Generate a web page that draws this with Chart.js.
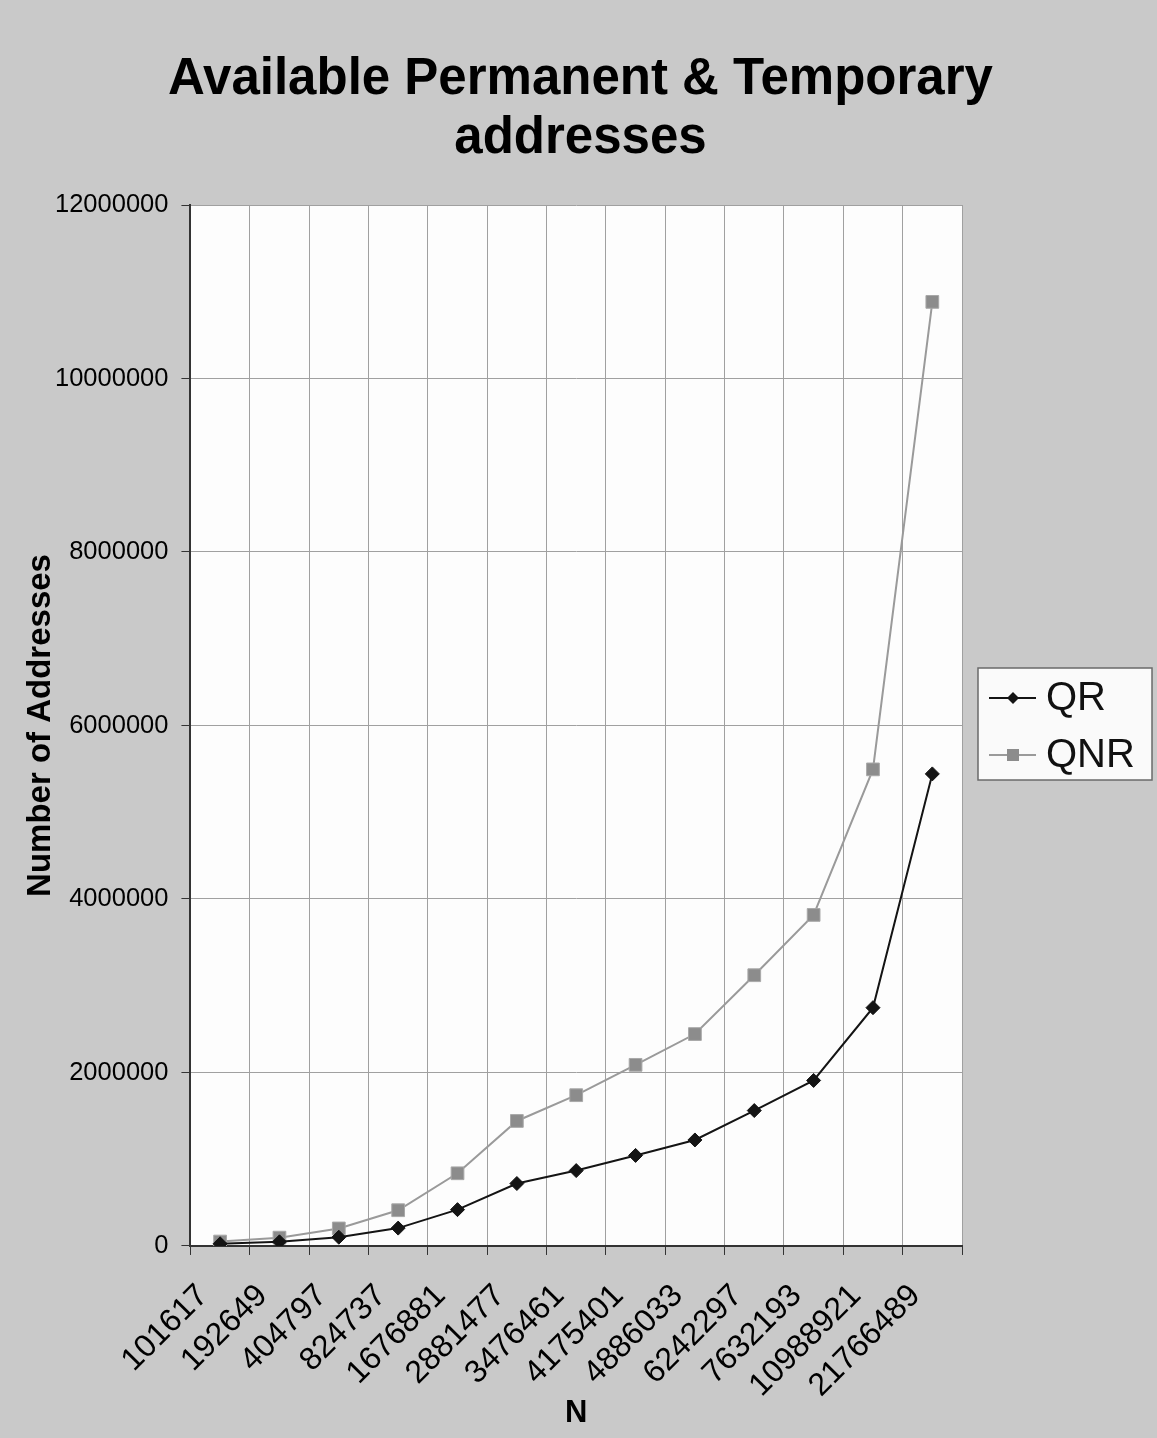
<!DOCTYPE html>
<html>
<head>
<meta charset="utf-8">
<script src="https://cdn.jsdelivr.net/npm/chart.js@4.4.1/dist/chart.umd.min.js"></script>
<style>
  html, body { margin: 0; padding: 0; background: #c9c9c9; }
  #wrap { width: 1157px; height: 1438px; }
</style>
</head>
<body>
<div id="wrap"><canvas id="c" width="1157" height="1438"></canvas></div>
<script>
// values
const nLabels = ["101617", "192649", "404797", "824737", "1676881", "2881477", "3476461",
                 "4175401", "4886033", "6242297", "7632193", "10988921", "21766489"];
const qrValues  = [25000, 48000, 101000, 206000, 419000, 720000, 869000,
                   1044000, 1222000, 1561000, 1908000, 2747000, 5442000];
const qnrValues = [51000, 96000, 202000, 412000, 838000, 1441000, 1738000,
                   2088000, 2443000, 3121000, 3816000, 5494000, 10883000];
const titleLines = ["Available Permanent & Temporary", "addresses"];
const yMin = 0, yMax = 12000000, yStep = 2000000;

const FONT = "'Liberation Sans', Arial, sans-serif";

// grey scan background, white plot area, and the title centred on the page
// (Chart.js' own title would centre over the padded box, not the page)
const sheet = {
  id: "sheet",
  beforeDraw(chart) {
    const { ctx, chartArea: a } = chart;
    ctx.save();
    ctx.fillStyle = "#c9c9c9";
    ctx.fillRect(0, 0, chart.width, chart.height);
    ctx.fillStyle = "#fdfdfd";
    ctx.fillRect(a.left, a.top, a.right - a.left, a.bottom - a.top);
    ctx.fillStyle = "#000";
    ctx.font = `bold 51px ${FONT}`;
    ctx.textAlign = "center";
    ctx.textBaseline = "alphabetic";
    titleLines.forEach((t, i) => ctx.fillText(t, chart.width / 2 + 2, 94 + i * 59));
    ctx.restore();
  },
};

// Excel-style boxed legend to the right of the plot
const boxLegend = {
  id: "boxLegend",
  afterDraw(chart) {
    const { ctx } = chart;
    const x = 978, y = 668, w = 174, h = 112;
    ctx.save();
    ctx.fillStyle = "#fafafa";
    ctx.fillRect(x, y, w, h);
    ctx.strokeStyle = "#6a6a6a";
    ctx.lineWidth = 1.5;
    ctx.strokeRect(x, y, w, h);
    chart.data.datasets.forEach((ds, i) => {
      const cy = y + 30 + i * 57;
      ctx.strokeStyle = ds.borderColor;
      ctx.lineWidth = 2;
      ctx.beginPath();
      ctx.moveTo(x + 11, cy);
      ctx.lineTo(x + 58, cy);
      ctx.stroke();
      ctx.fillStyle = ds.pointBackgroundColor;
      const mx = x + 35;
      ctx.beginPath();
      if (ds.pointStyle === "rectRot") {
        ctx.moveTo(mx, cy - 6); ctx.lineTo(mx + 6, cy);
        ctx.lineTo(mx, cy + 6); ctx.lineTo(mx - 6, cy);
        ctx.closePath();
      } else {
        ctx.rect(mx - 6, cy - 6, 12, 12);
      }
      ctx.fill();
      ctx.fillStyle = "#111";
      ctx.font = `40px ${FONT}`;
      ctx.textBaseline = "middle";
      ctx.textAlign = "left";
      ctx.fillText(ds.label, x + 68, cy + 1);
    });
    ctx.restore();
  },
};

new Chart(document.getElementById("c"), {
  type: "line",
  data: {
    labels: nLabels,
    datasets: [
      {
        label: "QR",
        data: qrValues,
        borderColor: "#141414",
        borderWidth: 2,
        pointStyle: "rectRot",
        pointRadius: 7,
        pointBackgroundColor: "#141414",
        pointBorderColor: "#141414",
        pointBorderWidth: 1,
        tension: 0,
      },
      {
        label: "QNR",
        data: qnrValues,
        borderColor: "#9a9a9a",
        borderWidth: 2,
        pointStyle: "rect",
        pointRadius: 9,
        pointBackgroundColor: "#8c8c8c",
        pointBorderColor: "#a8a8a8",
        pointBorderWidth: 1,
        tension: 0,
      },
    ],
  },
  options: {
    responsive: false,
    devicePixelRatio: 1,
    animation: false,
    layout: { padding: { top: 205, left: 0, right: 195, bottom: 0 } },
    plugins: {
      legend: { display: false },
      tooltip: { enabled: false },
      title: { display: false },
    },
    scales: {
      x: {
        type: "category",
        offset: true,
        grid: {
          offset: true,
          color: "#a0a0a0",
          lineWidth: 1,
          tickLength: 9,
          tickColor: "#333",
        },
        border: { color: "#333", width: 2 },
        ticks: {
          color: "#000",
          font: { family: FONT, size: 32 },
          minRotation: 45,
          maxRotation: 45,
          padding: 22,
          labelOffset: -17,
          autoSkip: false,
        },
        title: {
          display: true,
          text: "N",
          color: "#000",
          font: { family: FONT, size: 31, weight: "bold" },
          // Chart.js over-estimates the height of the rotated labels
          padding: { top: -32, bottom: 6 },
        },
      },
      y: {
        min: yMin,
        max: yMax,
        grid: {
          color: "#a0a0a0",
          lineWidth: 1,
          tickLength: 9,
          tickColor: "#333",
        },
        border: { color: "#333", width: 2 },
        ticks: {
          stepSize: yStep,
          color: "#000",
          font: { family: FONT, size: 25.5 },
          padding: 13,
          callback: (v) => String(v),
        },
        title: {
          display: true,
          text: "Number of Addresses",
          color: "#000",
          // thin line box so the title can sit close to the tick labels
          font: { family: FONT, size: 33, weight: "bold", lineHeight: 0.06 },
          padding: { top: 40, bottom: 0 },
        },
      },
    },
  },
  plugins: [sheet, boxLegend],
});
</script>
</body>
</html>
